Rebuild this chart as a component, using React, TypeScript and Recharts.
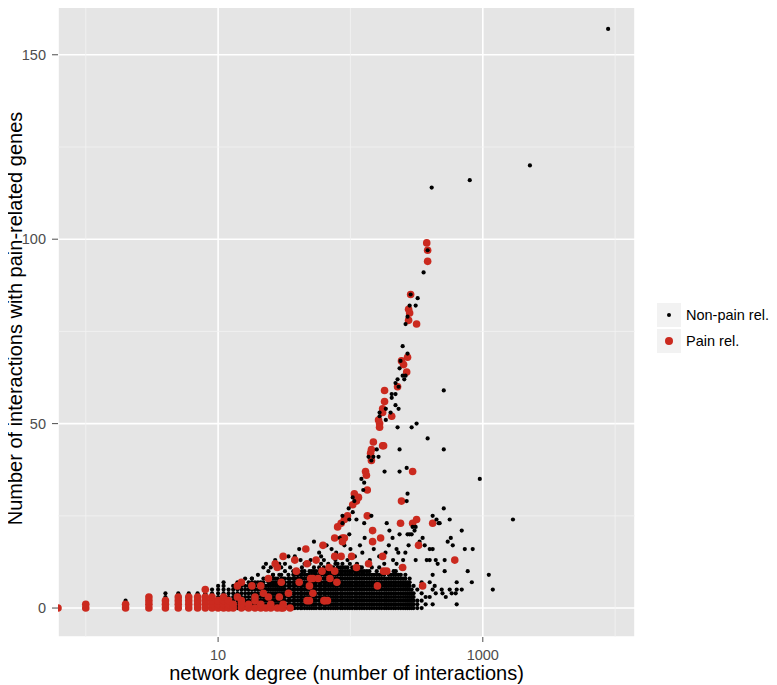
import { ScatterChart, Scatter, XAxis, YAxis, CartesianGrid, ReferenceLine } from "recharts";

// axis breaks (x is log10)
const X_TICKS = [10, 1000];
const X_MINOR = [1, 100, 10000];
const Y_TICKS = [0, 50, 100, 150];
const Y_MINOR = [25, 75, 125];
const X_DOMAIN = [0.617, 14125];
const Y_DOMAIN = [-7.85, 164.85];

const SERIES = ["Non-pain rel.", "Pain rel."];
const BLACK = "#000000";
const RED = "#cb2a1f";

// [degree, interaction counts stacked at that degree]; degree 0 = -Inf on log axis
const BLACK_COLUMNS: [number, number[]][] = [
  [0, [0]],
  [1, [0, 1]],
  [2, [0, 1, 2]],
  [3, [0, 1, 2, 3]],
  [4, [0, 1, 2, 3, 4]],
  [5, [0, 1, 2, 3, 4]],
  [6, [0, 1, 2, 3, 4]],
  [7, [0, 1, 2, 3, 4]],
  [8, [0, 1, 2, 3, 4]],
  [9, [0, 1, 2, 3, 4, 5]],
  [10, [0, 1, 2, 3, 4, 5, 6]],
  [11, [0, 1, 2, 3, 4, 5, 6, 7]],
  [12, [0, 1, 2, 3, 4, 5]],
  [13, [0, 1, 2, 3, 4, 5, 6]],
  [14, [0, 1, 2, 3, 4, 5, 6, 7]],
  [15, [0, 1, 2, 3, 4, 5, 6, 7]],
  [16, [0, 1, 2, 3, 4, 5, 6, 8]],
  [17, [0, 1, 2, 3, 4, 5, 6, 7]],
  [18, [0, 1, 2, 3, 4, 5, 6, 7, 8]],
  [19, [0, 1, 2, 3, 4, 5, 6, 7]],
  [20, [0, 1, 2, 3, 4, 5, 6, 7, 9]],
  [21, [0, 1, 2, 3, 4, 5, 6, 7]],
  [22, [0, 1, 2, 3, 4, 5, 6, 7, 8]],
  [23, [0, 1, 2, 3, 4, 5, 6, 8]],
  [24, [0, 1, 2, 3, 4, 5, 6, 7, 8, 10]],
  [25, [0, 1, 2, 3, 4, 5, 6, 7]],
  [26, [0, 1, 2, 3, 4, 5, 6, 7, 8, 9]],
  [27, [0, 1, 2, 3, 4, 5, 6, 7, 8]],
  [28, [0, 1, 2, 3, 4, 5, 6, 7, 8]],
  [29, [0, 1, 2, 3, 4, 5, 6, 7, 9]],
  [30, [0, 1, 2, 3, 4, 5, 6, 7, 8, 9, 11]],
  [31, [0, 1, 2, 3, 4, 5, 6, 7, 8]],
  [32, [0, 1, 2, 3, 4, 5, 6, 7, 8, 10]],
  [34, [0, 1, 2, 3, 4, 5, 6, 7, 8, 9]],
  [35, [0, 1, 2, 3, 4, 5, 6, 7, 8]],
  [37, [0, 1, 2, 3, 4, 5, 6, 7, 8, 9, 10]],
  [38, [0, 1, 2, 3, 4, 5, 6, 7, 8, 9]],
  [40, [0, 1, 2, 3, 4, 5, 6, 7, 8, 9, 10]],
  [42, [0, 1, 2, 3, 4, 5, 6, 7, 8, 9]],
  [43, [0, 1, 2, 3, 4, 5, 6, 7, 8, 9, 10, 11]],
  [45, [0, 1, 2, 3, 4, 5, 6, 7, 8, 9, 10]],
  [47, [0, 1, 2, 3, 4, 5, 6, 7, 8, 9]],
  [49, [0, 1, 2, 3, 4, 5, 6, 7, 8, 9, 10, 12]],
  [51, [0, 1, 2, 3, 4, 5, 6, 7, 8, 9, 10]],
  [53, [0, 1, 2, 3, 4, 5, 6, 7, 8, 9, 10, 11]],
  [55, [0, 1, 2, 3, 4, 5, 6, 7, 8, 9, 10]],
  [58, [0, 1, 2, 3, 4, 5, 6, 7, 8, 9, 10, 11]],
  [60, [0, 1, 2, 3, 4, 5, 6, 7, 8, 9, 10, 12]],
  [63, [0, 1, 2, 3, 4, 5, 6, 7, 8, 9, 10, 11, 13]],
  [65, [0, 1, 2, 3, 4, 5, 6, 7, 8, 9, 10]],
  [68, [0, 1, 2, 3, 4, 5, 6, 7, 8, 9, 10, 11, 12]],
  [71, [0, 1, 2, 3, 4, 5, 6, 7, 8, 9, 10, 11]],
  [74, [0, 1, 2, 3, 4, 5, 6, 7, 8, 9, 10, 11]],
  [77, [0, 1, 2, 3, 4, 5, 6, 7, 8, 9, 10, 12]],
  [80, [0, 1, 2, 3, 4, 5, 6, 7, 8, 9, 10, 11, 12, 14]],
  [84, [0, 1, 2, 3, 4, 5, 6, 7, 8, 9, 10, 11]],
  [87, [0, 1, 2, 3, 4, 5, 6, 7, 8, 9, 10, 11, 12]],
  [91, [0, 1, 2, 3, 4, 5, 6, 7, 8, 9, 10, 11]],
  [95, [0, 1, 2, 3, 4, 5, 6, 7, 8, 9, 10, 11, 13]],
  [99, [0, 1, 2, 3, 4, 5, 6, 7, 8, 9, 10, 12]],
  [103, [0, 1, 2, 3, 4, 5, 6, 7, 8, 9, 10, 11]],
  [108, [0, 1, 2, 3, 4, 5, 6, 7, 8, 9, 10]],
  [112, [0, 1, 2, 3, 4, 5, 6, 7, 8, 9, 10, 12]],
  [117, [0, 1, 2, 3, 4, 5, 6, 7, 8, 9, 10, 11]],
  [122, [0, 1, 2, 3, 4, 5, 6, 7, 8, 9, 10, 11]],
  [127, [0, 1, 2, 3, 4, 5, 6, 7, 8, 9, 10]],
  [133, [0, 1, 2, 3, 4, 5, 6, 7, 8, 9, 10]],
  [139, [0, 1, 2, 3, 4, 5, 6, 7, 8, 9, 10, 12]],
  [145, [0, 1, 2, 3, 4, 5, 6, 7, 8, 9, 11]],
  [151, [0, 1, 2, 3, 4, 5, 6, 7, 8, 9]],
  [158, [0, 1, 2, 3, 4, 5, 6, 7, 8, 9, 10]],
  [165, [0, 1, 2, 3, 4, 5, 6, 7, 8, 9, 11]],
  [172, [0, 1, 2, 3, 4, 5, 6, 7, 8, 9]],
  [180, [0, 1, 2, 3, 4, 5, 6, 7, 8, 9, 10]],
  [187, [0, 1, 2, 3, 4, 5, 6, 7, 8, 10]],
  [195, [0, 1, 2, 3, 4, 5, 6, 7, 8, 9]],
  [203, [0, 1, 2, 3, 4, 5, 6, 7, 8, 9]],
  [212, [0, 1, 2, 3, 4, 5, 6, 7, 8, 9, 10]],
  [220, [0, 1, 2, 3, 4, 5, 6, 7, 8, 9, 10]],
  [230, [0, 1, 2, 3, 4, 5, 6, 7, 8, 9]],
  [240, [0, 1, 2, 3, 4, 5, 6, 7, 8, 9, 11]],
  [250, [0, 1, 2, 3, 4, 5, 6, 7, 8]],
  [260, [0, 1, 2, 3, 4, 5, 6, 7, 8, 9]],
  [270, [0, 1, 2, 3, 4, 5, 6, 7]],
  [280, [0, 1, 2, 3, 4, 5, 6, 7, 8]],
  [290, [0, 1, 2, 3, 4, 5]],
  [300, [0, 1, 2, 3, 4, 6]],
  [320, [0, 1, 2, 5]],
  [345, [0, 2, 4, 7]],
  [370, [1, 3]],
];

// single non-pain genes: [degree, count]
const BLACK_POINTS: [number, number][] = [
  [8850, 157], [2270, 120], [797, 116], [411, 114],
  [383, 97], [357, 91], [285, 85], [322, 84], [280, 82], [311, 82], [270, 79], [261, 77],
  [248, 71], [270, 69], [239, 67], [235, 65], [248, 63], [261, 63], [255, 62], [227, 62],
  [219, 61], [231, 60], [507, 59], [219, 58], [205, 58], [205, 57], [219, 55], [231, 54],
  [185, 54], [166, 53], [201, 53], [166, 52], [185, 51], [227, 49], [290, 49], [316, 50],
  [383, 46], [507, 43], [158, 43], [235, 43], [137, 41], [149, 41], [163, 41], [144, 40],
  [181, 37], [235, 37], [266, 38], [121, 35], [127, 34], [949, 35], [125, 32], [270, 31],
  [266, 29], [104, 30], [97, 27], [507, 27], [87, 25], [104, 26], [144, 25], [418, 25],
  [447, 24], [562, 24], [1690, 24], [464, 23], [107, 29], [111, 24], [98, 24], [87, 23],
  [127, 23], [188, 23], [295, 22], [311, 22], [472, 23], [208, 19], [270, 20], [290, 20],
  [83, 19], [693, 21], [573, 19], [543, 18], [593, 17], [731, 16], [839, 16], [397, 16],
  [397, 13], [441, 13], [515, 13], [456, 12], [515, 10], [769, 10], [1110, 9], [418, 9],
  [826, 7], [635, 7], [397, 7], [1190, 5], [433, 6], [418, 5], [489, 5], [496, 4],
  [562, 5], [635, 5], [693, 5], [441, 4], [582, 4], [624, 4], [397, 3], [525, 3],
  [418, 1], [635, 1],
  [78, 15], [123, 15], [184, 15], [223, 16], [275, 17], [364, 17], [418, 16], [117, 11],
  [223, 12], [311, 13], [377, 13], [280, 20], [305, 21], [351, 19], [333, 18], [98, 20],
  [128, 19], [197, 21], [235, 20],
  [22, 11], [18, 8], [34, 14], [38, 14], [40, 9], [45, 12], [26, 9], [41, 16], [58, 15],
  [66, 17], [53, 18], [23, 12], [25, 11], [27, 13], [29, 12], [32, 12], [35, 11], [37, 13],
  [42, 13], [50, 13], [60, 14], [72, 16], [77, 13], [90, 17], [100, 16], [108, 14],
  [118, 17], [140, 13], [150, 16], [165, 14], [180, 12], [195, 17], [210, 13], [230, 15],
  [250, 13], [260, 15],
];

// pain-related genes
const RED_COLUMNS: [number, number[]][] = [
  [0, [0]],
  [1, [0, 1]],
  [2, [0, 1]],
  [3, [0, 1, 2, 3]],
  [4, [0, 1, 2]],
  [5, [0, 1, 2, 3]],
  [6, [0, 1, 2, 3]],
  [7, [0, 1, 2, 3]],
  [8, [0, 1, 2, 3, 5]],
  [9, [0, 1, 2, 3]],
  [10, [0, 1, 2]],
  [11, [0, 1, 2, 3]],
  [12, [0, 1, 2]],
  [13, [0, 1]],
  [15, [0, 1, 2]],
  [17, [0, 1]],
  [19, [0, 2]],
  [21, [0, 1]],
  [23, [0]],
  [25, [0, 1]],
  [28, [0]],
  [31, [0, 1]],
  [35, [0]],
];

const RED_LOW: [number, number][] = [
  [614, 13], [62, 17], [87, 18], [147, 18], [327, 17], [55, 13], [76, 14], [85, 14],
  [102, 14], [175, 14], [69, 11], [61, 10], [76, 10], [111, 11], [137, 12], [178, 10],
  [188, 10], [248, 11], [52, 8], [57, 8], [70, 8], [79, 7], [351, 6], [160, 6], [49, 6],
  [63, 2], [52, 4], [67, 2], [49, 2], [14, 6], [15, 7], [18, 6], [24, 8], [27, 12],
  [28, 11], [31, 14], [38, 13], [39, 10], [46, 16], [47, 12], [30, 7], [34, 4], [21, 6],
  [22, 4], [29, 3], [19, 3], [47, 2], [41, 7], [50, 8], [24, 3], [14, 3], [64, 2], [30, 0],
];

const RED_RIDGE: [number, number][] = [
  [377, 99], [383, 97], [383, 94], [285, 85], [275, 81], [280, 80], [275, 78], [316, 77],
  [270, 68], [243, 67], [252, 66], [266, 64], [227, 60], [181, 59], [181, 56], [175, 54],
  [175, 53], [205, 52], [163, 51], [166, 50], [166, 49], [149, 45], [175, 44], [178, 44],
  [144, 43], [142, 42], [144, 40], [130, 37], [295, 37], [132, 36], [134, 32], [243, 29],
  [107, 31], [115, 30], [111, 29], [104, 28], [95, 25], [134, 25], [90, 24], [85, 23],
  [80, 22], [239, 23], [295, 23], [316, 24], [418, 23], [147, 21], [169, 19], [90, 19],
  [76, 19], [87, 19],
];

const toRow = (deg: number, y: number) => ({ deg: deg === 0 ? X_DOMAIN[0] : deg, y });
const fromColumns = (cols: [number, number[]][]) =>
  cols.flatMap(([d, ys]) => ys.map((y) => toRow(d, y)));
const fromPairs = (pairs: [number, number][]) => pairs.map(([d, y]) => toRow(d, y));

const blackData = [...fromColumns(BLACK_COLUMNS), ...fromPairs(BLACK_POINTS)];
const redLowData = [...fromColumns(RED_COLUMNS), ...fromPairs(RED_LOW)];
const redRidgeData = fromPairs(RED_RIDGE);

const dot = (r: number, fill: string) => (props: any) =>
  <circle cx={props.cx} cy={props.cy} r={r} fill={fill} />;

const FONT = "'Liberation Sans', Arial, sans-serif";
const tickStyle = { fontSize: 14.5, fill: "#4d4d4d", fontFamily: FONT };

function LegendBox() {
  return (
    <div style={{ position: "absolute", left: 656, top: 302, fontFamily: FONT, whiteSpace: "nowrap" }}>
      {SERIES.map((s, i) => (
        <div key={s} style={{ display: "flex", alignItems: "center", height: 26 }}>
          <div
            style={{
              width: 24,
              height: 24,
              background: "#f2f2f2",
              border: "1px solid #fff",
              display: "flex",
              alignItems: "center",
              justifyContent: "center",
            }}
          >
            <div
              style={{
                width: i === 0 ? 4 : 8,
                height: i === 0 ? 4 : 8,
                borderRadius: "50%",
                background: i === 0 ? BLACK : RED,
              }}
            />
          </div>
          <span style={{ marginLeft: 4, fontSize: 14.5, color: "#000" }}>{s}</span>
        </div>
      ))}
    </div>
  );
}

export default function App() {
  return (
    <div style={{ position: "relative", width: 777, height: 685, margin: "-8px 0 0 -8px", fontFamily: FONT }}>
      <ScatterChart width={777} height={685} margin={{ top: 0, right: 142, bottom: 0, left: 0 }}>
        <CartesianGrid fill="#e5e5e5" stroke="#ffffff" strokeWidth={1.6} />
        {X_MINOR.map((v) => (
          <ReferenceLine key={"xm" + v} x={v} stroke="#f2f2f2" strokeWidth={0.8} />
        ))}
        {Y_MINOR.map((v) => (
          <ReferenceLine key={"ym" + v} y={v} stroke="#f2f2f2" strokeWidth={0.8} />
        ))}
        <XAxis
          dataKey="deg"
          type="number"
          scale="log"
          domain={X_DOMAIN}
          allowDataOverflow
          ticks={X_TICKS}
          height={48}
          axisLine={false}
          tickSize={5}
          tickMargin={8}
          tickLine={{ stroke: "#4d4d4d" }}
          tick={tickStyle}
          label={{
            value: "network degree (number of interactions)",
            position: "insideBottom",
            offset: 5,
            style: { fontSize: 20, fill: "#000", fontFamily: FONT },
          }}
        />
        <YAxis
          dataKey="y"
          type="number"
          domain={Y_DOMAIN}
          allowDataOverflow
          ticks={Y_TICKS}
          width={58}
          axisLine={false}
          tickSize={6}
          tickMargin={6}
          tickLine={{ stroke: "#4d4d4d" }}
          tick={tickStyle}
          label={{
            value: "Number of interactions with pain-related genes",
            angle: -90,
            position: "insideLeft",
            offset: 15,
            style: { fontSize: 20, fill: "#000", fontFamily: FONT, textAnchor: "middle" },
          }}
        />
        <Scatter name={SERIES[1]} data={redRidgeData} shape={dot(3.8, RED)} isAnimationActive={false} legendType="none" />
        <Scatter name={SERIES[0]} data={blackData} shape={dot(2.1, BLACK)} isAnimationActive={false} />
        <Scatter name={SERIES[1]} data={redLowData} shape={dot(3.8, RED)} isAnimationActive={false} />
      </ScatterChart>
      <LegendBox />
    </div>
  );
}
